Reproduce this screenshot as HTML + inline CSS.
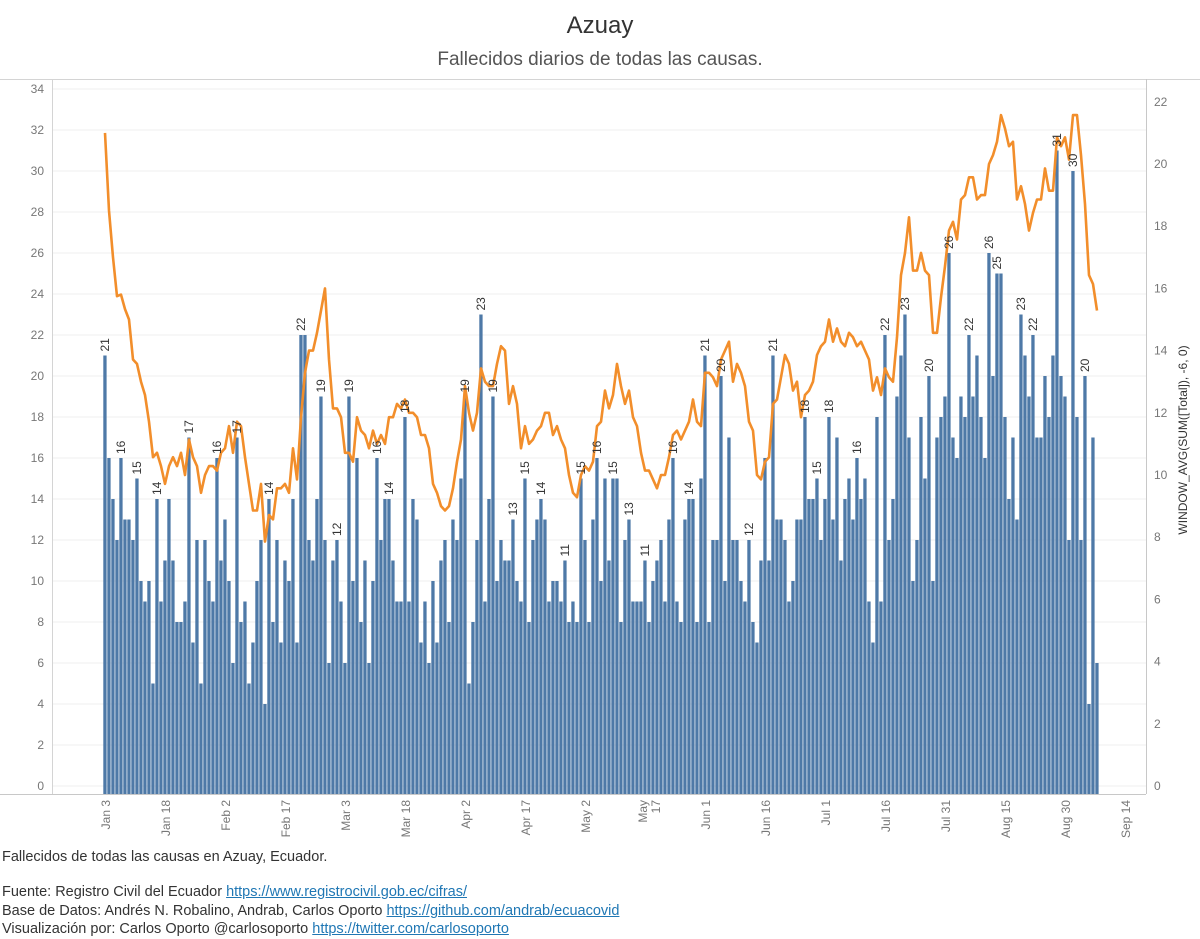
<!DOCTYPE html>
<html><head><meta charset="utf-8"><title>Azuay</title>
<style>
body{margin:0;background:#fff;width:1200px;height:939px;overflow:hidden;font-family:"Liberation Sans",sans-serif;}
svg text{font-family:"Liberation Sans",sans-serif;}
.foot{position:absolute;left:2px;font-size:14.5px;color:#333;}
.foot a{color:#1f77b4;text-decoration:underline;}
</style></head>
<body>
<svg id="chart" width="1200" height="939" xmlns="http://www.w3.org/2000/svg" style="position:absolute;left:0;top:0">
<text x="600" y="33" text-anchor="middle" font-size="24" fill="#333">Azuay</text>
<text x="600" y="65" text-anchor="middle" font-size="19" fill="#555">Fallecidos diarios de todas las causas.</text>
<line x1="0" y1="79.5" x2="1200" y2="79.5" stroke="#d4d4d4"/>
<g id="grid"></g>
<g id="bars"></g>
<g id="line"></g>
<g id="labels"></g>
<g id="axes"></g>
<text transform="translate(1187,440) rotate(-90)" text-anchor="middle" font-size="12" fill="#333">WINDOW_AVG(SUM([Total]), -6, 0)</text>
</svg>
<div class="foot" style="top:849px">Fallecidos de todas las causas en Azuay, Ecuador.</div>
<div class="foot" style="top:884px">Fuente: Registro Civil del Ecuador <a>https://www.registrocivil.gob.ec/cifras/</a></div>
<div class="foot" style="top:903px">Base de Datos: Andrés N. Robalino, Andrab, Carlos Oporto <a>https://github.com/andrab/ecuacovid</a></div>
<div class="foot" style="top:921px">Visualización por: Carlos Oporto @carlosoporto <a>https://twitter.com/carlosoporto</a></div>
<script>
const dailyDeaths = [
21,16,14,12,16,13,13,12,15,10,9,10,5,14,9,11,14,11,8,8,9,17,7,12,5,12,10,9,16,11,13,
10,6,17,8,9,5,7,10,12,4,14,8,12,7,11,10,14,7,22,22,12,11,14,19,12,6,11,12,
9,6,19,10,16,8,11,6,10,16,12,14,14,11,9,9,18,9,14,13,7,9,6,10,7,11,12,8,13,12,15,19,
5,8,12,23,9,14,19,10,12,11,11,13,10,9,15,8,12,13,14,13,9,10,10,9,11,8,9,8,15,12,8,13,16,
10,15,11,15,15,8,12,13,9,9,9,11,8,10,11,12,9,13,16,9,8,13,14,14,8,15,21,8,12,12,20,10,
17,12,12,10,9,12,8,7,11,16,11,21,13,13,12,9,10,13,13,18,14,14,15,12,14,18,13,17,11,14,15,
13,16,14,15,9,7,18,9,22,12,14,19,21,23,17,10,12,18,15,20,10,17,18,19,26,17,16,19,18,22,19,21,
18,16,26,20,25,25,18,14,17,13,23,21,19,22,17,17,20,18,21,31,20,19,12,30,18,12,20,4,17,6];
const labeledDays = [0,4,8,13,21,28,33,41,49,54,58,61,68,71,75,90,94,97,102,105,109,115,119,123,127,131,135,142,146,150,154,161,167,175,178,181,188,195,200,206,211,216,221,223,229,232,238,242,245];
const leftTicks = [0,2,4,6,8,10,12,14,16,18,20,22,24,26,28,30,32,34];
const rightTicks = [0,2,4,6,8,10,12,14,16,18,20,22];
const xTickLabels = ["Jan 3","Jan 18","Feb 2","Feb 17","Mar 3","Mar 18","Apr 2","Apr 17","May 2","May 17","Jun 1","Jun 16","Jul 1","Jul 16","Jul 31","Aug 15","Aug 30","Sep 14"];
const xTickDays = [0,15,30,45,60,75,90,105,120,135,150,165,180,195,210,225,240,255];

const NS="http://www.w3.org/2000/svg";
const xDay = d => 105 + 4*d;
const yL = v => 786 - 20.5*v;
const yR = v => 786 - 31.1*v;
function mk(tag, attrs, parent){const e=document.createElementNS(NS,tag);for(const k in attrs)e.setAttribute(k,attrs[k]);parent.appendChild(e);return e;}
const grid=document.getElementById('grid'),bars=document.getElementById('bars'),lineG=document.getElementById('line'),labels=document.getElementById('labels'),axes=document.getElementById('axes');

leftTicks.forEach(v=>{
  const g=mk('line',{x1:52,x2:1146,y1:yL(v),y2:yL(v),stroke:'#efefef'},grid);
  
  
  const t=mk('text',{x:44,y:yL(v)+4,'text-anchor':'end','font-size':12,fill:'#777'},axes);
  t.textContent=v;
  
  
});
rightTicks.forEach(v=>{
  const t=mk('text',{x:1154,y:yR(v)+4,'font-size':12,fill:'#777'},axes);
  t.textContent=v;
  
  
});
let a;
a=mk('line',{x1:0,x2:1146,y1:794.5,y2:794.5,stroke:'#c8c8c8'},axes);


a=mk('line',{x1:52.5,x2:52.5,y1:79,y2:794,stroke:'#d4d4d4'},axes);


a=mk('line',{x1:1146.5,x2:1146.5,y1:79,y2:794,stroke:'#c8c8c8'},axes);



xTickLabels.forEach((lab,i)=>{
  const x=xDay(xTickDays[i])+5;
  const t=mk('text',{transform:`translate(${x},800) rotate(-90)`,'text-anchor':'end','font-size':12,fill:'#777'},axes);
  if(lab==="May 17"){
    const s1=mk('tspan',{x:0,dy:-3},t);s1.textContent="May";
    const s2=mk('tspan',{x:0,dy:13},t);s2.textContent="17";
  } else t.textContent=lab;
  
  
});

dailyDeaths.forEach((v,i)=>{
  const x=xDay(i);
  const r=mk('rect',{x:x-1.7,y:yL(v),width:3.3,height:794-yL(v),fill:'#4e79a7'},bars);
  
  
});

const avg=dailyDeaths.map((v,i)=>{const s=dailyDeaths.slice(Math.max(0,i-6),i+1);return s.reduce((a,b)=>a+b,0)/s.length;});
const pl=mk('polyline',{points:avg.map((v,i)=>xDay(i)+','+yR(v).toFixed(1)).join(' '),fill:'none',stroke:'#f28e2b','stroke-width':2.6,'stroke-linejoin':'round'},lineG);



labeledDays.forEach(i=>{
  const x=xDay(i)+4, y=yL(dailyDeaths[i])-4;
  const t=mk('text',{transform:`translate(${x},${y}) rotate(-90)`,'font-size':12,fill:'#333'},labels);
  t.textContent=dailyDeaths[i];
  
  
});
</script>
</body></html>
